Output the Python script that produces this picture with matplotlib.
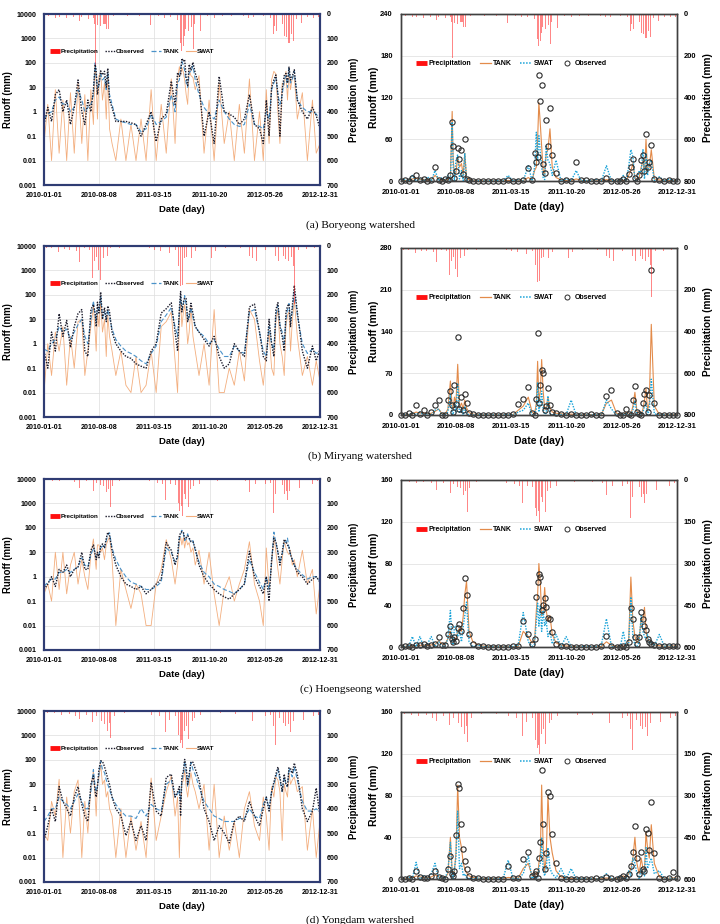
import matplotlib
matplotlib.use("Agg")
import matplotlib.pyplot as plt
from matplotlib.lines import Line2D
from matplotlib.ticker import NullLocator

plt.rcParams['font.family'] = ['Liberation Sans', 'DejaVu Sans']
plt.rcParams['font.weight'] = 'bold'
plt.rcParams['axes.labelweight'] = 'bold'

# sample days (days since 2010-01-01), shared by all watersheds
days = [0, 15, 30, 45, 60, 75, 90, 105, 120, 135, 150, 162, 174, 186, 196, 203, 207, 212, 218, 225,
        232, 240, 247, 253, 260, 270, 285, 305, 325, 345, 365, 385, 405, 425, 445, 465, 485, 505, 520, 530,
        537, 542, 547, 553, 558, 564, 570, 576, 583, 591, 600, 615, 635, 655, 675, 695, 715, 735, 755, 775,
        795, 815, 835, 855, 870, 882, 893, 903, 912, 920, 928, 936, 945, 953, 960, 966, 972, 978, 985, 993,
        1005, 1025, 1045, 1065, 1080, 1095]
date_ticks = [0, 219, 438, 657, 876, 1095]
date_labels = ["2010-01-01", "2010-08-08", "2011-03-15", "2011-10-20", "2012-05-26", "2012-12-31"]

# (a) Boryeong
obs_a = [0.3, 1.5, 0.4, 5, 8, 1, 3, 0.3, 1.5, 20, 1, 0.3, 3, 1, 8, 85, 50, 5, 15, 47, 32, 45, 10, 60, 3, 1.5,
         0.4, 0.4, 0.4, 0.35, 0.3, 0.1, 0.3, 1, 0.06, 0.5, 0.8, 18, 2, 40, 28, 35, 153, 115, 138, 25, 12, 87,
         50, 105, 38, 12, 0.1, 1, 0.05, 28, 1, 0.8, 0.6, 0.3, 0.5, 5, 0.3, 0.2, 0.05, 3, 0.1, 10, 20, 32, 5,
         0.1, 8, 30, 37, 15, 67, 20, 28, 52, 3, 1, 0.5, 1.5, 0.7, 0.2]
tank_a = [0.5, 0.8, 1.0, 3, 4, 2, 2.5, 1, 1.5, 8, 3, 1, 1.5, 2, 5, 100, 30, 10, 12, 35, 20, 25, 8, 40, 5, 2,
          0.5, 0.4, 0.35, 0.3, 0.3, 0.15, 0.2, 0.8, 0.3, 0.4, 0.6, 5, 1, 15, 20, 60, 113, 80, 50, 15, 10, 40,
          45, 75, 20, 5, 1.5, 0.8, 0.5, 3, 1, 0.5, 0.3, 0.25, 0.3, 2, 0.3, 0.25, 0.2, 1, 0.5, 8, 15, 25, 5,
          2, 5, 20, 30, 10, 60, 15, 20, 45, 3, 1.5, 1, 1, 0.8, 0.5]
swat_a = [0.05, 2, 0.01, 8, 0.02, 3, 0.01, 6, 0.02, 15, 0.05, 5, 0.01, 8, 0.3, 85, 20, 0.5, 30, 38, 3, 15,
          0.5, 40, 0.2, 0.05, 0.01, 0.5, 0.01, 0.3, 0.01, 0.5, 0.01, 8, 0.01, 2, 0.02, 22, 0.05, 20, 70, 30,
          65, 40, 20, 5, 2, 50, 30, 25, 8, 30, 0.02, 3, 0.01, 15, 0.05, 1, 0.01, 2, 0.02, 22, 0.01, 1, 0.01,
          8, 0.05, 20, 45, 35, 1, 0.05, 15, 12, 45, 3, 40, 8, 25, 30, 0.5, 6, 0.01, 3, 0.02, 0.05]
rain_days_a = [17, 44, 63, 90, 116, 140, 150, 176, 195, 202, 206, 212, 225, 235, 242, 249, 255, 275, 330, 380,
               421, 455, 480, 500, 530, 540, 546, 553, 557, 562, 573, 586, 592, 599, 619, 650, 678, 710, 745,
               790, 811, 830, 870, 900, 910, 916, 923, 945, 954, 963, 972, 980, 989, 1000, 1022, 1045, 1069, 1088]
rain_a = [10, 15, 12, 18, 14, 30, 12, 20, 15, 40, 210, 45, 48, 40, 40, 60, 61, 10, 8, 10, 43, 8, 15, 12, 25,
          120, 153, 130, 90, 60, 70, 55, 145, 40, 69, 10, 15, 10, 10, 8, 15, 12, 10, 15, 80, 50, 70, 40, 90,
          96, 117, 80, 112, 20, 35, 12, 15, 12]

# (b) Miryang
obs_b = [0.5, 0.1, 3, 0.5, 17, 2, 9, 0.7, 5, 17, 25, 0.5, 0.3, 25, 40, 17, 5, 50, 18, 130, 10, 30, 8, 35, 20,
         3, 1, 0.5, 0.3, 0.25, 0.15, 0.12, 0.1, 0.5, 1, 18, 27, 47, 3, 0.5, 27, 137, 20, 50, 75, 70, 8, 15, 45,
         17, 5, 3, 1.5, 0.8, 2, 0.3, 0.1, 0.15, 1, 0.5, 0.3, 32, 42, 3, 0.3, 0.2, 10, 1, 0.3, 25, 48, 5, 2,
         0.5, 20, 35, 42, 5, 33, 243, 20, 0.5, 0.1, 0.8, 0.2, 0.6]
tank_b = [0.6, 0.5, 1, 1.5, 5, 3, 4, 1.5, 3, 6, 10, 2, 1, 10, 57, 15, 8, 30, 20, 85, 12, 20, 10, 25, 12, 4,
          1.5, 0.8, 0.5, 0.4, 0.3, 0.2, 0.15, 0.4, 0.8, 8, 15, 30, 5, 2, 20, 90, 25, 40, 93, 40, 10, 12, 30,
          12, 5, 3, 2, 1, 1.5, 0.6, 0.3, 0.3, 0.8, 0.5, 0.4, 20, 25, 3, 0.5, 0.3, 5, 1, 0.6, 15, 38, 6, 3, 1,
          10, 25, 44, 8, 20, 152, 15, 1, 0.4, 0.6, 0.4, 0.5]
swat_b = [0.01, 1, 0.05, 3, 0.5, 5, 0.02, 2, 0.1, 8, 10, 0.05, 0.5, 5, 35, 3, 0.5, 20, 5, 52, 3, 10, 0.3, 15,
          2, 0.5, 0.05, 0.5, 0.02, 0.01, 0.3, 0.01, 0.02, 0.5, 0.01, 5, 8, 20, 0.2, 0.01, 10, 55, 5, 20, 40,
          10, 1, 3, 32, 2, 0.5, 0.05, 1, 0.02, 25, 0.01, 0.01, 0.1, 0.02, 0.5, 0.03, 25, 10, 0.2, 0.02, 0.5,
          3, 0.1, 0.05, 8, 25, 1, 0.3, 0.05, 5, 15, 20, 0.5, 8, 60, 2, 0.05, 0.3, 0.02, 0.2, 0.03]
rain_days_b = [10, 30, 59, 80, 100, 130, 141, 160, 180, 193, 200, 210, 218, 224, 235, 250, 265, 300, 350, 420,
               440, 462, 497, 520, 535, 543, 551, 556, 565, 587, 600, 666, 680, 720, 780, 816, 826, 844, 880,
               920, 930, 950, 960, 970, 980, 988, 992, 1010, 1040, 1075]
rain_b = [8, 10, 25, 12, 15, 20, 67, 10, 15, 130, 60, 45, 100, 140, 50, 40, 10, 8, 6, 10, 15, 20, 30, 15, 80,
          163, 160, 50, 45, 50, 20, 50, 20, 8, 10, 40, 50, 60, 15, 40, 60, 40, 55, 60, 45, 80, 236, 15, 12, 10]

# (c) Hoengseong
obs_c = [0.3, 0.5, 1, 0.4, 2, 1.5, 3, 1, 2, 2.5, 10, 2, 2, 12, 20, 8, 5, 10, 6, 18, 22, 15, 37, 66, 50, 12,
         3, 1, 0.5, 0.4, 0.3, 0.4, 0.2, 0.3, 0.5, 0.8, 25, 12, 3, 8, 48, 62, 70, 67, 35, 40, 47, 38, 28, 27,
         14, 3, 1, 0.5, 0.3, 0.2, 0.15, 0.12, 0.2, 0.3, 0.5, 11, 1, 0.4, 0.2, 1, 0.1, 5, 37, 27, 10, 3, 10,
         34, 27, 20, 16, 8, 5, 3, 1.5, 1, 0.5, 0.8, 1, 0.6]
tank_c = [0.4, 0.6, 0.8, 0.8, 1.5, 1.5, 2, 1.5, 2, 2.5, 6, 3, 2.5, 8, 15, 10, 6, 8, 8, 15, 18, 15, 30, 50, 63,
          15, 5, 2, 1, 0.6, 0.5, 0.4, 0.3, 0.3, 0.4, 0.6, 15, 10, 4, 6, 35, 50, 80, 60, 30, 35, 57, 35, 25,
          30, 12, 4, 1.5, 1, 0.5, 0.4, 0.3, 0.25, 0.2, 0.3, 0.5, 5, 1.5, 0.6, 0.3, 1, 0.3, 4, 67, 25, 10, 4,
          8, 28, 25, 38, 15, 8, 5, 3, 2, 1.2, 0.8, 1, 1, 0.7]
swat_c = [0.2, 0.5, 0.1, 10, 0.3, 10, 0.2, 3, 10, 0.5, 5, 1, 0.3, 8, 35, 5, 2, 20, 20, 10, 15, 5, 20, 30, 43,
          5, 0.01, 2, 0.3, 0.05, 0.5, 0.2, 0.01, 0.01, 0.5, 2, 33, 5, 0.5, 3, 25, 42, 20, 40, 15, 35, 20, 25,
          10, 15, 3, 12, 0.5, 10, 0.2, 0.01, 0.3, 1, 0.1, 0.5, 2, 27, 0.5, 0.1, 0.01, 15, 0.3, 3, 48, 10, 2,
          0.5, 5, 30, 15, 10, 8, 12, 3, 5, 1, 12, 0.5, 2, 0.03, 0.5]
rain_days_c = [10, 35, 60, 90, 120, 141, 170, 196, 210, 225, 238, 248, 255, 264, 272, 300, 360, 420, 450, 470,
               484, 500, 520, 532, 538, 544, 549, 556, 562, 572, 580, 592, 615, 690, 760, 800, 817, 840, 880,
               900, 912, 920, 945, 955, 962, 967, 975, 1015, 1067, 1085]
rain_c = [5, 8, 10, 6, 12, 36, 10, 48, 15, 25, 30, 55, 40, 114, 30, 8, 5, 10, 15, 20, 84, 20, 25, 100, 130,
          110, 150, 60, 80, 114, 40, 30, 20, 8, 6, 10, 54, 20, 20, 15, 138, 60, 25, 60, 50, 84, 50, 35, 20, 10]

# (d) Yongdam
obs_d = [0.05, 0.2, 1, 0.3, 8, 2, 1, 0.5, 3, 8, 1.5, 0.5, 0.3, 10, 22, 5, 3, 8, 42, 91, 87, 53, 29, 17, 10,
         3, 1, 0.5, 0.08, 0.3, 0.05, 0.2, 0.05, 12, 0.8, 0.5, 19, 26, 3, 5, 8, 0.5, 20, 35, 104, 53, 10, 25,
         83, 80, 43, 15, 1, 0.3, 0.05, 0.2, 0.1, 0.04, 0.3, 0.5, 0.3, 2, 0.5, 0.2, 1, 3, 0.8, 5, 12, 26, 51,
         20, 5, 26, 10, 8, 48, 44, 28, 74, 25, 1, 0.3, 0.8, 7, 0.5]
tank_d = [0.3, 0.5, 1, 1, 3, 2, 1.5, 1, 2, 4, 2, 1, 1, 5, 40, 8, 5, 8, 25, 90, 40, 30, 15, 10, 6, 3, 1.5,
          0.8, 0.5, 0.5, 0.4, 1, 0.5, 1.5, 1, 0.8, 10, 15, 3, 4, 6, 2, 15, 25, 90, 30, 8, 20, 80, 40, 25, 8,
          2, 1, 0.5, 0.4, 0.3, 0.3, 0.3, 0.4, 0.4, 1, 0.5, 0.4, 1.5, 3, 1, 5, 10, 20, 40, 15, 5, 20, 10, 8,
          45, 30, 20, 52, 15, 2, 0.8, 0.8, 1, 0.7]
swat_d = [0.1, 0.05, 2, 0.5, 16, 0.01, 3, 0.1, 5, 15, 0.01, 2, 0.1, 8, 35, 3, 0.5, 10, 20, 65, 10, 15, 3, 5,
          1, 0.5, 0.01, 1, 0.01, 0.5, 0.02, 0.3, 0.01, 18, 0.05, 0.5, 5, 22, 0.5, 3, 0.01, 1, 10, 15, 40, 8,
          3, 10, 30, 10, 5, 1, 10, 0.02, 10, 0.01, 0.5, 0.02, 0.3, 0.01, 1, 5, 0.2, 0.05, 3, 0.5, 0.02, 8, 3,
          20, 15, 5, 0.05, 10, 5, 3, 30, 10, 15, 20, 5, 8, 0.02, 1, 0.01, 0.3]
rain_days_d = [12, 40, 70, 100, 125, 142, 170, 194, 210, 228, 240, 250, 258, 264, 280, 320, 380, 425, 460, 484,
               497, 520, 535, 540, 545, 549, 556, 565, 573, 590, 598, 620, 700, 760, 826, 880, 900, 912, 918,
               935, 950, 960, 970, 977, 990, 1030, 1070, 1088]
rain_d = [8, 10, 15, 12, 20, 34, 15, 46, 20, 40, 55, 80, 50, 109, 20, 8, 6, 15, 20, 88, 35, 20, 100, 130, 120,
          150, 80, 60, 115, 40, 30, 15, 10, 12, 40, 20, 15, 60, 138, 30, 50, 60, 55, 85, 40, 35, 20, 15]

captions = ["(a) Boryeong watershed", "(b) Miryang watershed", "(c) Hoengseong watershed", "(d) Yongdam watershed"]
right_ymax = [240, 280, 160, 160]
right_rmax = [800, 800, 600, 600]

log_ticks = [0.001, 0.01, 0.1, 1, 10, 100, 1000, 10000]
log_labels = ["0.001", "0.01", "0.1", "1", "10", "100", "1000", "10000"]

c_obs = "#1b1b2b"
c_tank_l = "#4a92c9"
c_swat_l = "#f3ae7e"
c_tank_r = "#e38b4a"
c_swat_r = "#1aa3d8"
c_rain = "#ff1010"

fig = plt.figure(figsize=(7.2, 9.24), dpi=100)


def fpos(x, y, w, h):
    return [x / 720, 1 - (y + h) / 924, w / 720, h / 924]


def rain_axis(ax, rmax, rstep, rain_days, rain, fs_tick, fs_lab, lab_x):
    ax2 = ax.twinx()
    ax2.bar(rain_days, rain, width=4, color=c_rain, alpha=0.5, lw=0)
    ax2.set_ylim(rmax, 0)
    ax2.set_yticks(range(0, rmax + 1, rstep))
    ax2.tick_params(labelsize=fs_tick, length=0, pad=5)
    ax2.set_ylabel("Precipitation (mm)", fontsize=fs_lab)
    ax2.yaxis.set_label_coords(lab_x, 0.5)
    return ax2


def log_panel(top, obs, tank, swat, rain_days, rain):
    ax = fig.add_axes(fpos(44, top, 276, 171))
    ax.plot(days, swat, color=c_swat_l, lw=0.6, zorder=2)
    ax.plot(days, tank, color=c_tank_l, lw=0.8, ls=(0, (4, 2)), zorder=3)
    ax.plot(days, obs, color=c_obs, lw=1.0, ls=(0, (1, 1)), zorder=4)
    ax.set_yscale('log')
    ax.set_ylim(0.001, 10000)
    ax.set_yticks(log_ticks, log_labels)
    ax.yaxis.set_minor_locator(NullLocator())
    ax.set_xlim(0, 1095)
    ax.set_xticks(date_ticks, date_labels)
    ax.tick_params(labelsize=5.1, length=0, pad=5)
    ax.grid(True, color='#dddddd', lw=0.5)
    ax.set_ylabel("Runoff (mm)", fontsize=6.9)
    ax.yaxis.set_label_coords(-31 / 276, 0.5)
    ax.set_xlabel("Date (day)", fontsize=6.8)
    ax.xaxis.set_label_coords(0.5, -20 / 171)
    ax2 = rain_axis(ax, 700, 100, rain_days, rain, 5.1, 6.9, 1 + 29 / 276)
    handles = [Line2D([], [], color=c_rain, lw=3.5, solid_capstyle='butt'),
               Line2D([], [], color=c_obs, lw=1.0, ls=(0, (1, 1))),
               Line2D([], [], color=c_tank_l, lw=0.9, ls=(0, (4, 2))),
               Line2D([], [], color=c_swat_l, lw=0.8)]
    ax2.legend(handles, ["Precipitation", "Observed", "TANK", "SWAT"], ncol=4, frameon=False,
               loc='upper left', bbox_to_anchor=(0.0, 0.83), fontsize=4.5, handlelength=1.6,
               handletextpad=0.2, columnspacing=1.0)
    for a in (ax, ax2):
        for s in a.spines.values():
            s.set_color('#2f3c73')
            s.set_linewidth(1.5)


def lin_panel(top, obs, tank, swat, rain_days, rain, ymax, rmax):
    ax = fig.add_axes(fpos(401, top, 276, 167))
    ax.plot(days, tank, color=c_tank_r, lw=0.8, zorder=2)
    ax.plot(days, swat, color=c_swat_r, lw=1.0, ls=(0, (1, 1)), zorder=3)
    ax.plot(days, obs, ls='none', marker='o', ms=3.8, mfc='none', mec='#2a2a2a', mew=0.8,
            zorder=4, clip_on=False)
    ax.set_ylim(0, ymax)
    ax.set_yticks(range(0, ymax + 1, ymax // 4))
    ax.set_xlim(0, 1095)
    ax.set_xticks(date_ticks, date_labels)
    ax.tick_params(labelsize=5.4, length=0, pad=6)
    ax.grid(True, axis='y', color='#dddddd', lw=0.5)
    ax.set_ylabel("Runoff (mm)", fontsize=7.5)
    ax.yaxis.set_label_coords(-22 / 276, 0.5)
    ax.set_xlabel("Date (day)", fontsize=7.5)
    ax.xaxis.set_label_coords(0.5, -21 / 167)
    ax2 = rain_axis(ax, rmax, rmax // 4, rain_days, rain, 5.4, 7.3, 1 + 26 / 276)
    handles = [Line2D([], [], color=c_rain, lw=3.5, solid_capstyle='butt'),
               Line2D([], [], color=c_tank_r, lw=0.9),
               Line2D([], [], color=c_swat_r, lw=1.1, ls=(0, (1, 1))),
               Line2D([], [], ls='none', marker='o', ms=3.6, mfc='none', mec='#2a2a2a', mew=0.7)]
    ax2.legend(handles, ["Precipitation", "TANK", "SWAT", "Observed"], ncol=4, frameon=False,
               loc='upper left', bbox_to_anchor=(0.03, 0.76), fontsize=5.0, handlelength=1.6,
               handletextpad=0.3, columnspacing=1.2)
    for a in (ax, ax2):
        for s in a.spines.values():
            s.set_color('#404040')
            s.set_linewidth(1.0)


left_tops = [14, 246, 479, 711]
right_tops = [14, 248, 480, 712]
cap_y = [225, 456, 689, 920]
series = [(obs_a, tank_a, swat_a, rain_days_a, rain_a),
          (obs_b, tank_b, swat_b, rain_days_b, rain_b),
          (obs_c, tank_c, swat_c, rain_days_c, rain_c),
          (obs_d, tank_d, swat_d, rain_days_d, rain_d)]

for i in range(4):
    obs, tank, swat, rd, rv = series[i]
    log_panel(left_tops[i], obs, tank, swat, rd, rv)
    lin_panel(right_tops[i], obs, tank, swat, rd, rv, right_ymax[i], right_rmax[i])
    fig.text(0.5, 1 - cap_y[i] / 924, captions[i], ha='center', va='center',
             family=['Liberation Serif', 'DejaVu Serif'], fontweight='normal', fontsize=8.2)

fig.savefig("out.png", dpi=100)
